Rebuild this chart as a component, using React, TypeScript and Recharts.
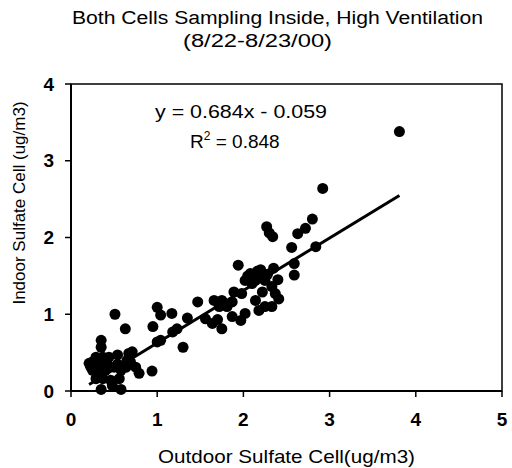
import React from "react";
import {
  ScatterChart,
  Scatter,
  XAxis,
  YAxis,
  ReferenceLine,
  ReferenceArea,
} from "recharts";

const outdoor = [
  3.81, 2.92, 2.8, 2.72, 2.63, 2.27, 2.34, 2.3, 2.56, 2.84, 2.59, 2.59, 2.35, 1.94,
  2.02, 2.08, 2.16, 2.22, 2.14, 2.25, 2.33, 2.37, 2.41, 2.33, 2.25, 2.18, 2.14, 2.22,
  1.98, 1.89, 1.87, 1.81, 1.87, 1.97, 2.02, 1.75, 2.1, 2.05, 2.28, 2.4, 2.2,
  1.66, 1.72, 1.47, 1.64, 1.7, 1.75, 1.56, 1.35, 1.23, 1.18, 1.3, 1.0, 1.04, 1.17,
  0.95, 1.0, 1.04, 0.94, 0.51, 0.63,
  0.35, 0.35, 0.25, 0.29, 0.37, 0.44, 0.54, 0.67, 0.69, 0.75, 0.79, 0.64, 0.58, 0.5,
  0.4, 0.33, 0.25, 0.29, 0.37, 0.46, 0.56, 0.35, 0.58, 0.48, 0.23, 0.42, 0.33, 0.54,
  0.65, 0.21, 0.71,
];
const indoor = [
  3.38, 2.64, 2.24, 2.12, 2.05, 2.14, 2.01, 2.06, 1.87, 1.88, 1.66, 1.51, 1.6, 1.64,
  1.44, 1.53, 1.56, 1.49, 1.44, 1.44, 1.36, 1.27, 1.2, 1.1, 1.1, 1.05, 1.18, 1.29,
  1.27, 1.29, 1.16, 1.1, 0.97, 0.92, 1.01, 1.18, 1.4, 1.5, 1.52, 1.45, 1.58,
  1.18, 1.1, 1.16, 0.88, 0.93, 0.81, 0.94, 0.95, 0.81, 0.77, 0.57, 1.09, 0.99, 1.01,
  0.84, 0.64, 0.66, 0.26, 1.0, 0.81,
  0.66, 0.57, 0.38, 0.44, 0.44, 0.44, 0.47, 0.49, 0.38, 0.31, 0.23, 0.31, 0.27, 0.31,
  0.27, 0.23, 0.27, 0.16, 0.16, 0.14, 0.16, 0.02, 0.02, 0.07, 0.31, 0.35, 0.33, 0.35,
  0.4, 0.36, 0.51,
];
const xTicks = [0, 1, 2, 3, 4, 5];
const yTicks = [0, 1, 2, 3, 4];
const slope = 0.684;
const intercept = -0.059;

const points = outdoor.map((x, i) => ({ x, y: indoor[i] }));
const xMin = Math.min(...outdoor);
const xMax = Math.max(...outdoor);

const FONT = "'Liberation Sans', Arial, Helvetica, sans-serif";

function Dot(props: { cx?: number; cy?: number }) {
  return <circle cx={props.cx} cy={props.cy} r={5.5} fill="#000" />;
}

export default function App() {
  return (
    <div style={{ position: "absolute", left: 0, top: 0, width: 512, height: 468, background: "#fff", fontFamily: FONT }}>
      <ScatterChart width={512} height={468} margin={{ top: 84, right: 10, bottom: 0, left: 0 }}>
        <XAxis
          type="number"
          dataKey="x"
          domain={[0, 5]}
          ticks={xTicks}
          height={77}
          axisLine={{ stroke: "#000", strokeWidth: 2 }}
          tickLine={{ stroke: "#000", strokeWidth: 1.5 }}
          tickSize={6}
          tickMargin={16}
          tick={{ fill: "#000", fontSize: 19, fontWeight: "bold", fontFamily: FONT }}
        />
        <YAxis
          type="number"
          dataKey="y"
          domain={[0, 4]}
          ticks={yTicks}
          width={71}
          axisLine={{ stroke: "#000", strokeWidth: 2 }}
          tickLine={{ stroke: "#000", strokeWidth: 1.5 }}
          tickSize={6}
          tickMargin={11}
          tick={{ fill: "#000", fontSize: 19, fontWeight: "bold", fontFamily: FONT }}
        />
        <ReferenceArea x1={0} x2={5} y1={0} y2={4} fill="none" stroke="#000" strokeWidth={1.5} />
        <Scatter data={points} fill="#000" isAnimationActive={false} shape={<Dot />} legendType="none" />
        <ReferenceLine
          segment={[
            { x: xMin, y: slope * xMin + intercept },
            { x: xMax, y: slope * xMax + intercept },
          ]}
          stroke="#000"
          strokeWidth={3}
        />
      </ScatterChart>
      <svg width={512} height={468} style={{ position: "absolute", left: 0, top: 0, pointerEvents: "none" }}>
        <g fontFamily={FONT} fill="#000">
          <text x={72} y={24} fontSize={18} textLength={411} lengthAdjust="spacingAndGlyphs">
            Both Cells Sampling Inside, High Ventilation
          </text>
          <text x={183} y={47} fontSize={18} textLength={149} lengthAdjust="spacingAndGlyphs">
            (8/22-8/23/00)
          </text>
          <text x={155} y={118} fontSize={19} textLength={172} lengthAdjust="spacingAndGlyphs">
            y = 0.684x - 0.059
          </text>
          <text x={190} y={148} fontSize={19}>
            R<tspan fontSize={12} dy={-8}>2</tspan>
            <tspan dy={8}> = 0.848</tspan>
          </text>
          <text x={158} y={463} fontSize={19} textLength={257} lengthAdjust="spacingAndGlyphs">
            Outdoor Sulfate Cell(ug/m3)
          </text>
          <text x={25} y={203} fontSize={17} textAnchor="middle" transform="rotate(-90 25 203)">
            Indoor Sulfate Cell (ug/m3)
          </text>
        </g>
      </svg>
    </div>
  );
}
